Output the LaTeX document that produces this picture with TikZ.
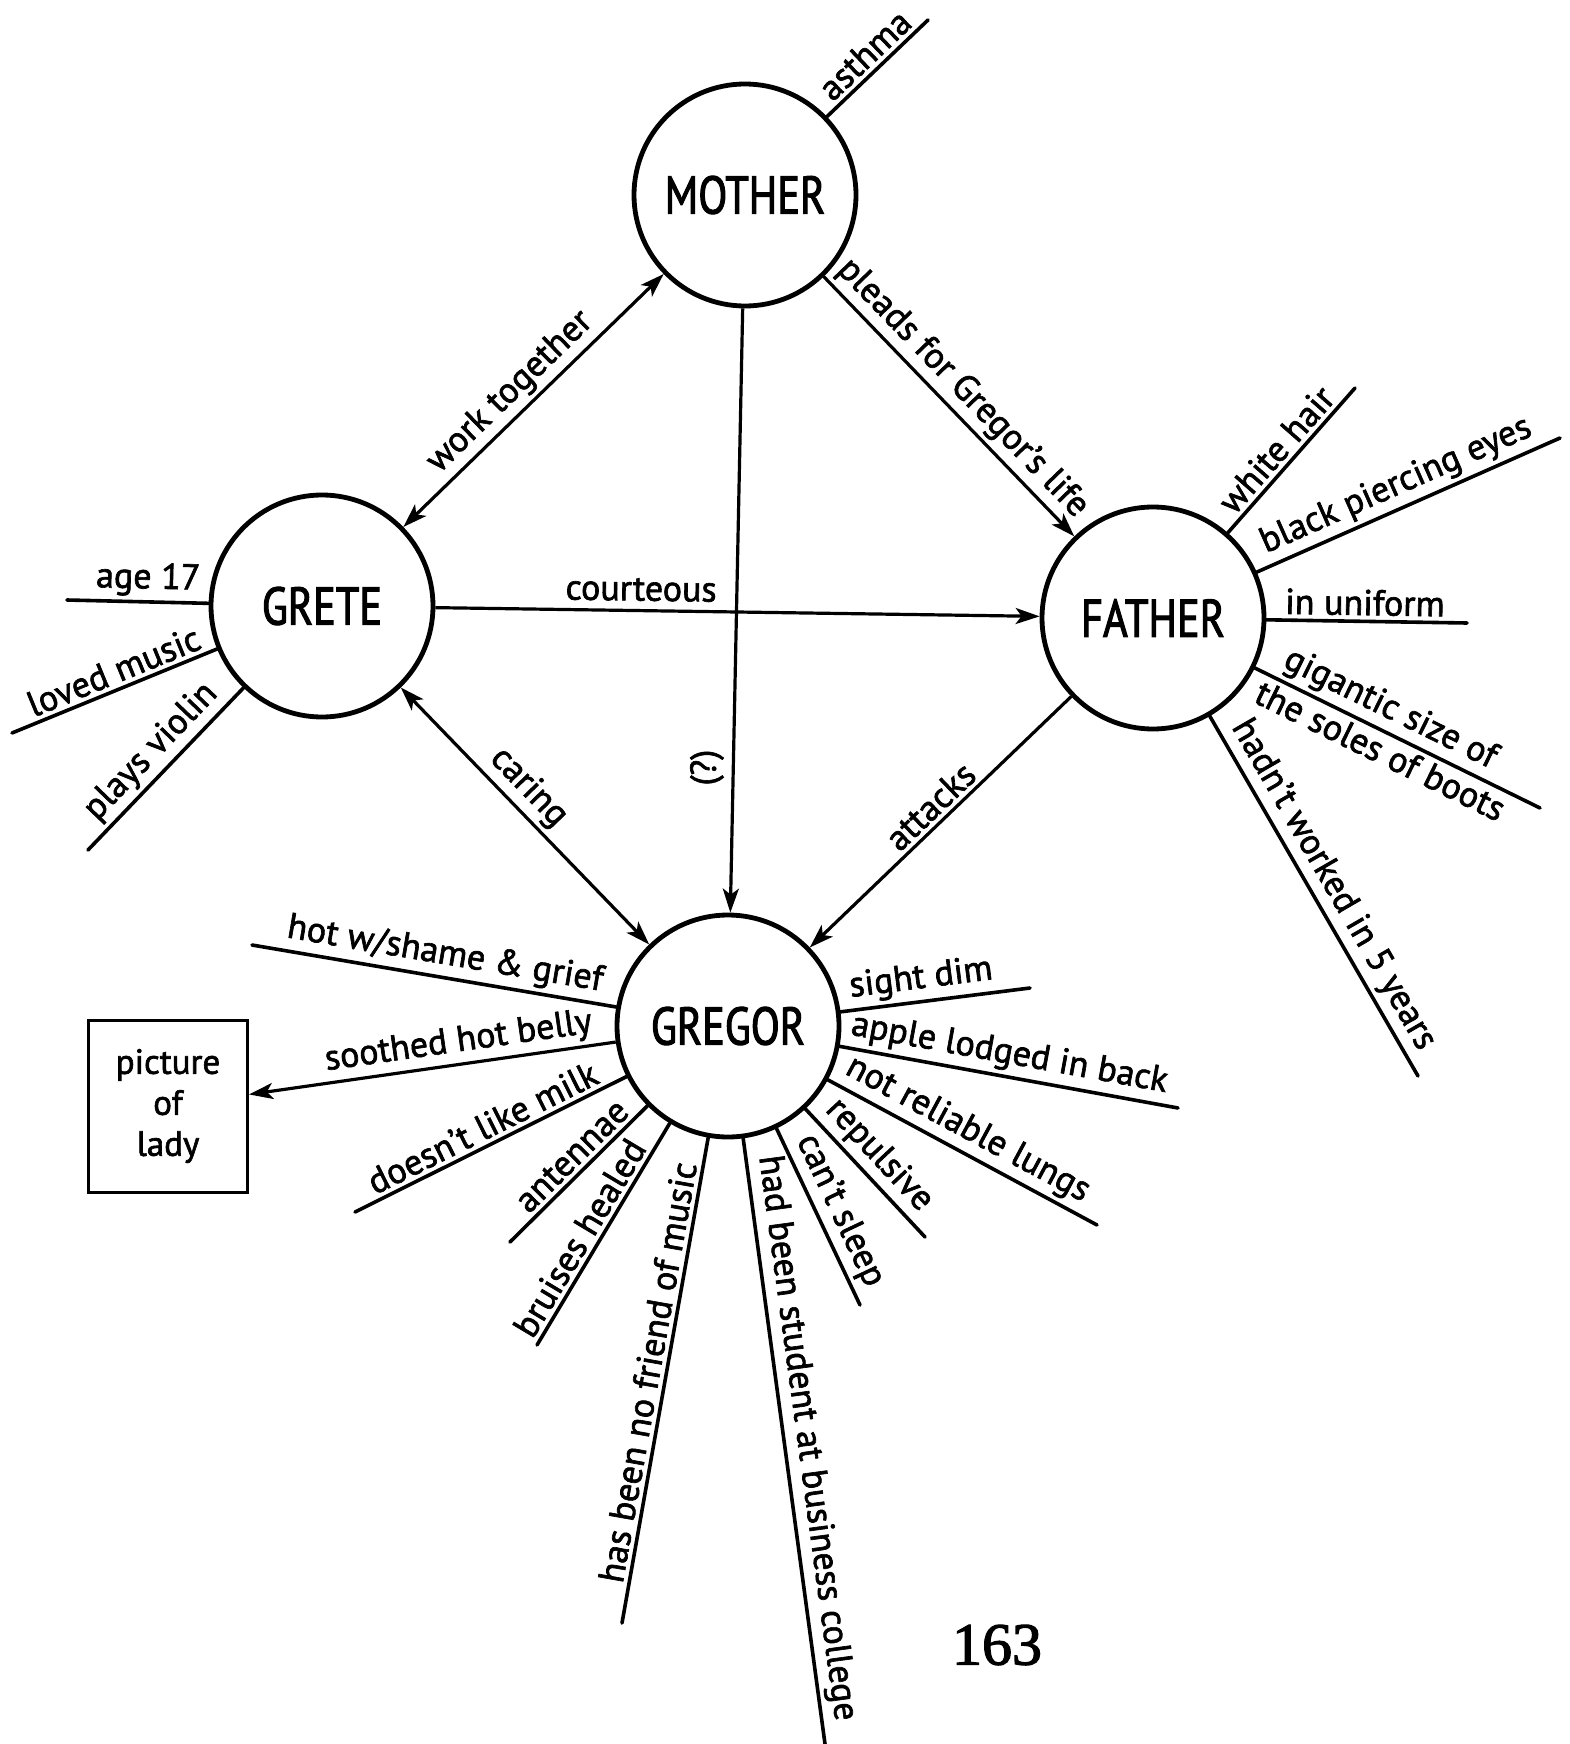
\documentclass[tikz,border=0pt]{standalone}
\usepackage{fontspec}
\setmainfont{PT Sans}[FakeBold=1.8]
\newfontfamily\titlefont{PT Sans}[FakeStretch=0.8, FakeBold=2]
\newfontfamily\foliofont{Liberation Serif}[FakeBold=2]
\usetikzlibrary{arrows.meta}

\begin{document}
\begin{tikzpicture}[x=1pt,y=-1pt,
  person/.style={circle, draw, line width=4.8pt, minimum size=222pt, inner sep=0pt,
    font=\titlefont\fontsize{53}{60}\selectfont},
  trait/.style={line width=3.6pt, line cap=round},
  tip/.tip={Stealth[length=24pt,width=16pt,inset=6pt]},
  rel/.style={line width=3.2pt, -tip},
  mutual/.style={line width=3.2pt, tip-tip},
  lbl/.style={font=\fontsize{36}{40}\selectfont, inner sep=4pt, sloped, above},
]
\useasboundingbox (0,0) rectangle (1570,1744);

% the four family members
\node[person] (mother) at (745,195) {MOTHER};
\node[person] (grete)  at (322,606) {GRETE};
\node[person] (father) at (1153,618) {FATHER};
\node[person] (gregor) at (728,1026) {GREGOR};

% the picture on the wall
\node[draw, line width=3pt, minimum width=159pt, minimum height=172pt, align=center,
      font=\fontsize{35}{41}\selectfont] (lady) at (168,1106) {picture\\of\\lady};

% relations between the characters
\draw[mutual] (grete) -- (mother) node[lbl, pos=0.47] {work together};
\draw[rel] (mother) -- (father) node[lbl, pos=0.49] {pleads for Gregor's life};
\draw[rel] (grete) -- (father) node[lbl, pos=0.34, inner sep=8pt] {courteous};
\draw[rel] (mother) -- (gregor) node[pos=0.76, rotate=90, anchor=south, inner sep=8pt,
      font=\fontsize{36}{40}\selectfont] {(?)};
\draw[mutual] (grete) -- (gregor) node[lbl, pos=0.45] {caring};
\draw[rel] (father) -- (gregor) node[lbl, pos=0.49] {attacks};
\draw[rel] (gregor) -- (lady) node[lbl, pos=0.42] {soothed hot belly};

% free ends of the trait lines
\coordinate (asthma)   at (928,20);
\coordinate (age)      at (67,600);
\coordinate (music)    at (12,733);
\coordinate (violin)   at (88,850);
\coordinate (hair)     at (1355,388);
\coordinate (eyes)     at (1560,438);
\coordinate (uniform)  at (1467,623);
\coordinate (boots)    at (1540,808);
\coordinate (worked)   at (1418,1076);
\coordinate (shame)    at (252,945);
\coordinate (milk)     at (355,1212);
\coordinate (antennae) at (510,1242);
\coordinate (bruises)  at (537,1345);
\coordinate (nofriend) at (622,1623);
\coordinate (student)  at (825,1744);
\coordinate (sleep)    at (860,1305);
\coordinate (repulse)  at (925,1237);
\coordinate (lungs)    at (1097,1225);
\coordinate (apple)    at (1178,1108);
\coordinate (sight)    at (1030,988);

% mother
\draw[trait] (mother) -- (asthma) node[lbl, pos=0.5] {asthma};

% grete
\draw[trait] (grete) -- (age) node[lbl, pos=0.43] {age 17};
\draw[trait] (grete) -- (music) node[lbl, pos=0.47] {loved music};
\draw[trait] (grete) -- (violin) node[lbl, pos=0.49] {plays violin};

% father
\draw[trait] (father) -- (hair) node[lbl, pos=0.49] {white hair};
\draw[trait] (father) -- (eyes) node[lbl, pos=0.49] {black piercing eyes};
\draw[trait] (father) -- (uniform) node[lbl, pos=0.49] {in uniform};
\draw[trait] (father) -- (boots)
  node[lbl, pos=0.44] {gigantic size of}
  node[lbl, below, pos=0.47] {the soles of boots};
\draw[trait] (father) -- (worked) node[lbl, pos=0.5] {hadn't worked in 5 years};

% gregor
\draw[trait] (gregor) -- (shame) node[lbl, pos=0.48] {hot w/shame \& grief};
\draw[trait] (gregor) -- (milk) node[lbl, pos=0.5] {doesn't like milk};
\draw[trait] (gregor) -- (antennae) node[lbl, pos=0.46] {antennae};
\draw[trait] (gregor) -- (bruises) node[lbl, pos=0.56] {bruises healed};
\draw[trait] (gregor) -- (nofriend) node[lbl, pos=0.49] {has been no friend of music};
\draw[trait] (gregor) -- (student) node[lbl, pos=0.5] {had been student at business college};
\draw[trait] (gregor) -- (sleep) node[lbl, pos=0.52] {can't sleep};
\draw[trait] (gregor) -- (repulse) node[lbl, pos=0.48] {repulsive};
\draw[trait] (gregor) -- (lungs) node[lbl, pos=0.48] {not reliable lungs};
\draw[trait] (gregor) -- (apple) node[lbl, pos=0.49] {apple lodged in back};
\draw[trait] (gregor) -- (sight) node[lbl, pos=0.44] {sight dim};

% page number
\node[font=\foliofont\fontsize{60}{60}\selectfont] (folio) at (997,1645) {163};
\end{tikzpicture}
\end{document}
